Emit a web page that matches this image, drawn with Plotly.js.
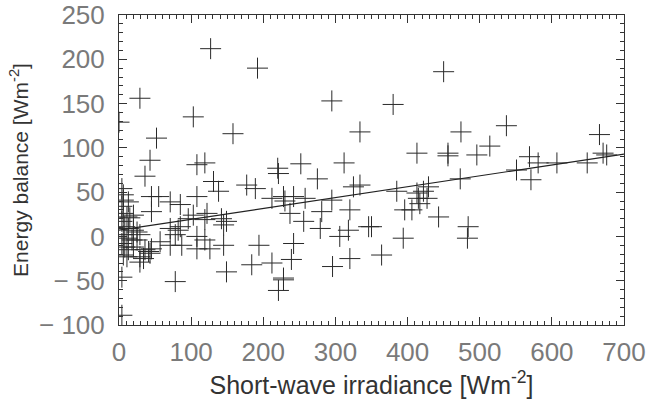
<!DOCTYPE html>
<html>
<head>
<meta charset="utf-8">
<script src="https://cdn.plot.ly/plotly-3.0.1.min.js"></script>
<style>html,body{margin:0;padding:0;background:#fff;}</style>
</head>
<body>
<div id="chart" style="width:648px;height:401px;"></div>
<script>
// Short-wave irradiance (W m-2)
const irradiance = [
  127,192,29,103,52,158,43,119,108,220,0,450,295,380,334,474,413,456,456,496,
  252,312,537,514,666,671,676,569,581,607,649,551,571,275,221,228,242,258,230,295,
  325,334,385,413,422,429,415,427,473,237,281,320,396,406,417,256,279,318,306,346,
  350,443,394,484,483,242,239,320,364,296,228,36,45,55,71,85,108,131,138,177,
  189,212,45,96,103,122,119,142,149,145,71,82,85,78,108,119,57,87,108,126,
  145,71,184,212,194,149,78,228,221,29,34,29,41,36,43,45,6,11,15,20,
  4,8,13,20,25,6,11,18,4,8,13,6,11,20,25,29,6,6,4,4,
  4,13,4
];
// Energy balance (W m-2)
const energyBalance = [
  212,190,156,135,111,116,86,83,81,77,129,186,153,149,118,118,94,94,91,92,
  82,83,125,102,115,94,92,90,83,83,83,75,64,65,71,45,45,43,40,41,
  56,58,51,49,51,56,43,43,65,26,28,30,30,30,37,17,9,7,0,11,
  11,22,-2,11,-2,-8,-26,-25,-21,-34,-47,68,45,45,39,36,45,62,51,58,
  54,43,28,20,24,26,19,20,17,13,9,7,11,2,0,-4,-6,-10,-14,-14,
  -10,-10,-32,-30,-10,-40,-51,-49,-61,-23,-25,-29,-17,-15,-19,-14,26,22,21,24,
  17,11,9,7,5,2,-2,-4,-8,-12,-15,-21,-23,-12,-4,2,41,47,54,-46,
  -89,39,34
];
// Linear regression line end points
const fitX = [0, 700];
const fitY = [7, 93];

const xTicks = [0,100,200,300,400,500,600,700];
const xTickText = ['0','100','200','300','400','500','600','700'];
const yTicks = [-100,-50,0,50,100,150,200,250];
const yTickText = ['\u2212\u00a0100','\u2212\u00a050','0','50','100','150','200','250'];

const axisCommon = {
  showgrid:false, zeroline:false, showline:true, linecolor:'#333', linewidth:1,
  mirror:'allticks', ticks:'inside', ticklen:8, tickwidth:1, tickcolor:'#333',
  tickfont:{family:'Liberation Sans, Arial, sans-serif', size:26, color:'#7a7a7a'},
  minor:{dtick:10, ticks:'inside', ticklen:4, tickwidth:1, tickcolor:'#333'}
};

const traces = [
  {x:irradiance, y:energyBalance, type:'scatter', mode:'markers',
   marker:{symbol:'cross-thin-open', size:15, color:'#2a2a2a', line:{width:1, color:'#2a2a2a'}},
   hoverinfo:'x+y', showlegend:false},
  {x:fitX, y:fitY, type:'scatter', mode:'lines',
   line:{color:'#222', width:1.2}, showlegend:false}
];

const layout = {
  width:648, height:401,
  margin:{l:119, r:24, t:15, b:76},
  paper_bgcolor:'#fff', plot_bgcolor:'#fff',
  font:{family:'Liberation Sans, Arial, sans-serif', color:'#333'},
  xaxis:Object.assign({}, axisCommon, {
    range:[0,700], tickmode:'array', tickvals:xTicks, ticktext:xTickText,
    ticklabelstandoff:4,
    title:{text:'Short-wave irradiance [Wm<sup>-2</sup>]', font:{size:25, color:'#333'}, standoff:2}
  }),
  yaxis:Object.assign({}, axisCommon, {
    range:[-100,250], tickmode:'array', tickvals:yTicks, ticktext:yTickText,
    ticklabelstandoff:8,
    title:{text:'Energy balance [Wm<sup>-2</sup>]', font:{size:21, color:'#333'}, standoff:4}
  })
};

Plotly.newPlot('chart', traces, layout, {staticPlot:true, displayModeBar:false});
</script>
</body>
</html>
